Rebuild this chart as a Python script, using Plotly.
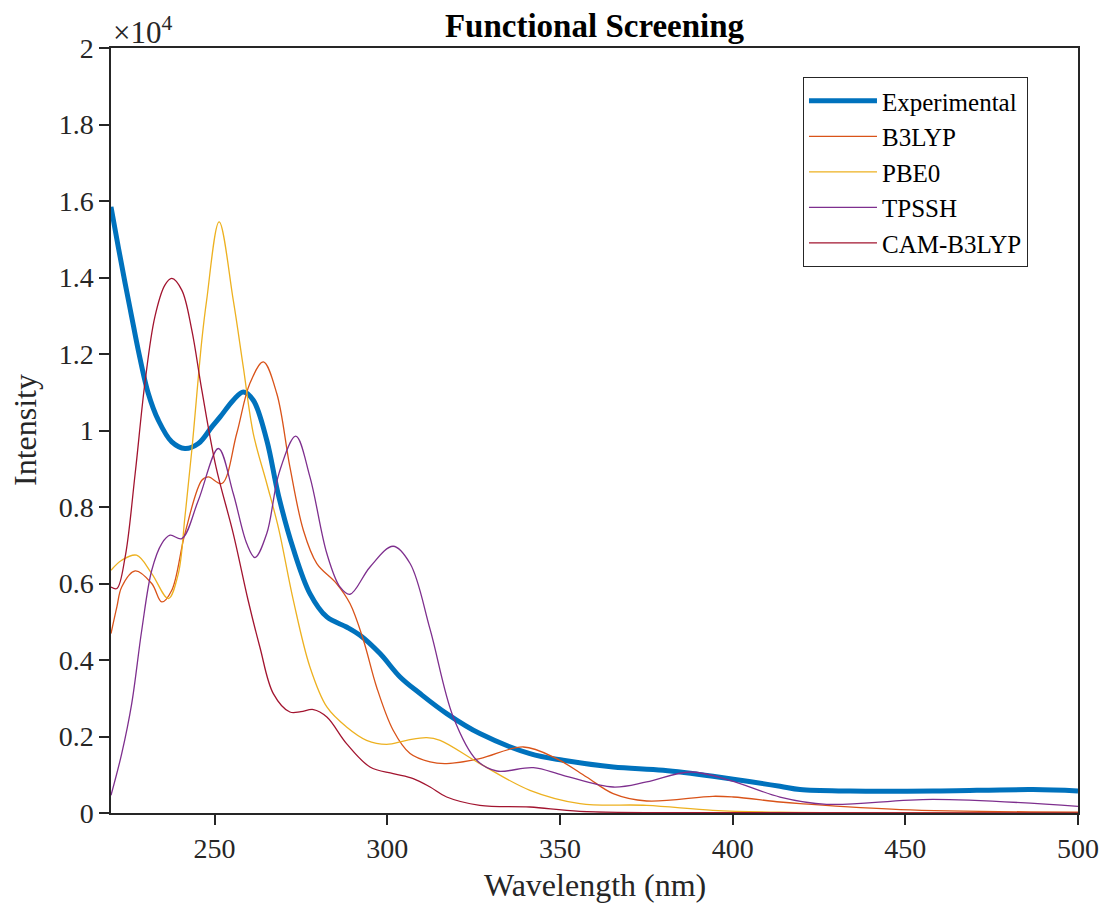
import plotly.graph_objects as go

# ---- data (wavelength nm, intensity) ----
exp_x = [220, 222.1, 224.1, 226, 227.9, 230.8, 233.7, 237.6, 241.4, 245.3, 249.2, 251.6, 255.4, 258.3,
         261.2, 265.1, 268.5, 272.8, 277.6, 282.5, 288.2, 292.1, 297.9, 303.7, 309.5, 317.2, 326.8, 341.3,
         350.9, 365.4, 379.9, 394.3, 413.7, 419.5, 434, 458, 487, 500]
exp_y = [15847, 14801, 13844, 12970, 12100, 10967, 10269, 9702, 9529, 9660, 10094, 10355, 10792, 11009,
         10792, 9746, 8300, 6900, 5737, 5125, 4864, 4647, 4168, 3557, 3122, 2599, 2076, 1553,
         1378, 1203, 1117, 960, 698, 612, 575, 575, 612, 575]

b3_x = [220, 221.7, 223.1, 227, 231.8, 234.7, 237.6, 241.4, 246.3, 248.2, 252.1, 256.4, 260.2, 264.1,
        268, 271.8, 275.7, 279.6, 285.3, 289.2, 293.1, 296.9, 301.7, 306.6, 312.4, 317.2, 326.8,
        339.4, 349, 357.7, 365.4, 375.1, 394.3, 400.2, 413.7, 419.5, 448.5, 500]
b3_y = [4691, 5387, 5910, 6328, 5999, 5518, 5824, 7306, 8700, 8787, 8614, 9921, 11229, 11794,
        10967, 9048, 7393, 6522, 5999, 5476, 4516, 3295, 2163, 1553, 1334, 1292, 1422,
        1726, 1422, 941, 507, 314, 437, 418, 288, 246, 89, 20]

pbe_x = [220, 223.1, 227.4, 231.8, 236.6, 239.5, 241.4, 243.4, 246.3, 247.7, 251.3, 255.4, 258.3,
         261.2, 265.1, 268.5, 272.8, 277.6, 282.5, 288.2, 294, 299.8, 305.6, 311.4, 315.3, 326.8,
         341.3, 355.8, 375.1, 394.3, 413.7, 500]
pbe_y = [6347, 6608, 6739, 6260, 5607, 6260, 7740, 9485, 12361, 13407, 15455, 13407, 11663,
         9921, 8614, 7450, 5560, 3818, 2772, 2249, 1901, 1796, 1901, 1972, 1901, 1292,
         594, 246, 201, 71, 20, 0]

tp_x = [220, 223.1, 226, 228.9, 231.8, 234.7, 237.1, 240.5, 245.3, 251.1, 255.4, 259.3, 261.7, 265.1,
        268.7, 273.5, 277.6, 282.5, 286.3, 289.2, 295, 301.7, 306.6, 312.4, 319.1, 325.9, 331.7,
        342.3, 350.9, 365.4, 375.1, 387.6, 399.2, 413.7, 427.2, 458, 500]
tp_y = [463, 1553, 2861, 4778, 6347, 7045, 7262, 7175, 8177, 9529, 8352, 7045, 6679, 7306,
        8900, 9851, 8787, 6783, 5910, 5719, 6433, 6974, 6522, 4800, 2510, 1378, 1098,
        1187, 986, 680, 811, 1072, 855, 418, 228, 358, 175]

cam_x = [220, 221.7, 224.1, 227, 229.8, 232.7, 235.6, 237.6, 240.5, 243.4, 246.3, 250.4, 255.4, 259.7,
         263.1, 267, 271.8, 275, 278.6, 282.5, 288.2, 295, 301.7, 307.5, 312.4, 317.2, 326.8, 341.3,
         355.8, 400, 500]
cam_y = [5910, 5868, 6694, 8876, 11229, 12970, 13799, 13975, 13669, 12623, 11054, 9048, 7306, 5562,
         4341, 3122, 2641, 2650, 2704, 2510, 1815, 1203, 1030, 900, 680, 418, 201, 157,
         44, 10, 0]

x_ticks = [250, 300, 350, 400, 450, 500]
y_ticks = [0, 2000, 4000, 6000, 8000, 10000, 12000, 14000, 16000, 18000, 20000]
y_ticktext = ["0", "0.2", "0.4", "0.6", "0.8", "1", "1.2", "1.4", "1.6", "1.8", "2"]

FONT = "Liberation Serif, Times New Roman, serif"
AX = "#262626"

series = [
    ("Experimental", exp_x, exp_y, "#0072BD", 5),
    ("B3LYP", b3_x, b3_y, "#D95319", 1.3),
    ("PBE0", pbe_x, pbe_y, "#EDB120", 1.3),
    ("TPSSH", tp_x, tp_y, "#7E2F8E", 1.3),
    ("CAM-B3LYP", cam_x, cam_y, "#A2142F", 1.3),
]

fig = go.Figure()
for name, xs, ys, col, w in series:
    fig.add_trace(go.Scatter(x=xs, y=ys, name=name, mode="lines",
                             line=dict(color=col, width=w, shape="spline", smoothing=1.0)))

axis_common = dict(showline=True, linecolor=AX, linewidth=1.5, mirror=True, ticks="outside",
                   ticklen=10, tickwidth=1.5, tickcolor=AX, showgrid=False, zeroline=False,
                   automargin=False, tickfont=dict(family=FONT, size=28, color=AX))

fig.update_layout(
    width=1102, height=909,
    paper_bgcolor="white", plot_bgcolor="white",
    margin=dict(l=111, r=24, t=48, b=96),
    font=dict(family=FONT, color=AX),
    title=dict(text="<b>Functional Screening</b>", x=0.5395, xanchor="center",
               y=0.972, yanchor="middle", yref="container",
               font=dict(family=FONT, size=33, color="black")),
    xaxis=dict(range=[220, 500], tickvals=x_ticks, **axis_common),
    yaxis=dict(range=[0, 20000], tickvals=y_ticks, ticktext=y_ticktext, **axis_common),
    legend=dict(x=0.7156, y=0.962, xanchor="left", yanchor="top", bgcolor="white",
                bordercolor=AX, borderwidth=1, font=dict(family=FONT, size=25, color="black"),
                itemwidth=68, tracegroupgap=0),
    showlegend=True,
)

fig.add_annotation(text="×10<sup>4</sup>", xref="paper", yref="paper", x=0, y=1.0,
                   xanchor="left", yanchor="bottom", showarrow=False, yshift=-4,
                   font=dict(family=FONT, size=31, color=AX))
fig.add_annotation(text="Wavelength (nm)", xref="paper", yref="paper", x=0.5, y=-0.094,
                   xanchor="center", yanchor="middle", showarrow=False,
                   font=dict(family=FONT, size=32, color=AX))
fig.add_annotation(text="Intensity", xref="paper", yref="paper", x=-0.0889, y=0.5007,
                   xanchor="center", yanchor="middle", textangle=-90, showarrow=False,
                   font=dict(family=FONT, size=32, color=AX))

fig.write_html("out.html", config={"displayModeBar": False},
               post_script="document.body.style.margin='0';document.body.style.overflow='hidden';")
